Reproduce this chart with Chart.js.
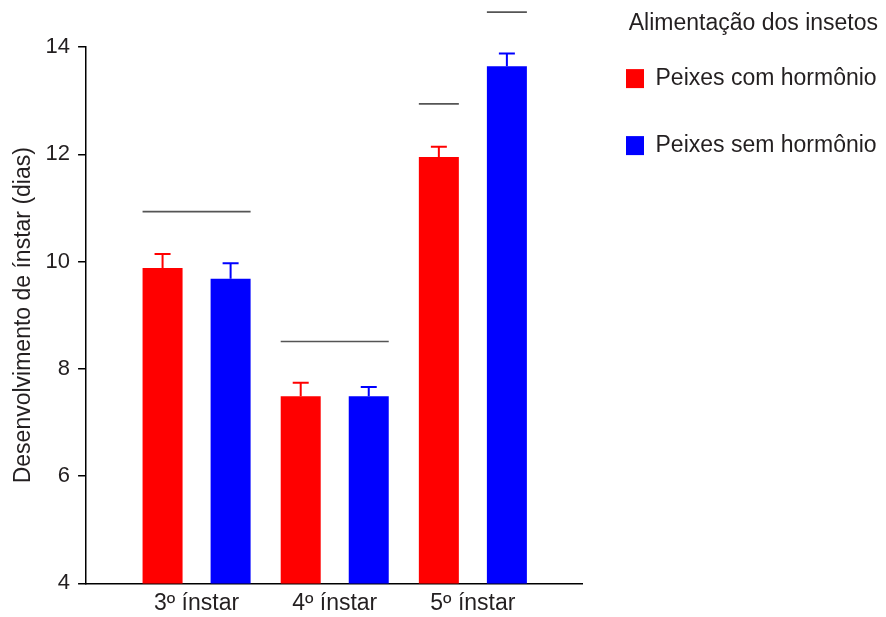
<!DOCTYPE html>
<html>
<head>
<meta charset="utf-8">
<script src="https://cdn.jsdelivr.net/npm/chart.js@4/dist/chart.umd.min.js"></script>
<style>
  html, body { margin: 0; padding: 0; background: #fff; }
  #wrap { width: 886px; height: 617px; }
</style>
</head>
<body>
<div id="wrap"><canvas id="chart"></canvas></div>
<script>
'use strict';

var categories = ['3º ínstar', '4º ínstar', '5º ínstar'];
var seriesNames = ['Peixes com hormônio', 'Peixes sem hormônio'];
var comHormonio = [9.88, 7.49, 11.95];
var semHormonio = [9.68, 7.49, 13.64];
var erroCom = [0.26, 0.25, 0.19];
var erroSem = [0.29, 0.17, 0.24];
var yTicks = [4, 6, 8, 10, 12, 14];

// significance lines: group, first series, last series, level
var sigGroup = [0, 1, 2, 2];
var sigFrom = [0, 0, 0, 1];
var sigTo = [1, 1, 0, 1];
var sigLevel = [10.93, 8.51, 12.94, 14.65];

var textColor = '#231f20';
var font = 'Arial, "Liberation Sans", Helvetica, sans-serif';

function points(values) {
   return values.map(function (v, i) { return { x: i, y: v }; });
}

var errorBars = {
   id: 'errorBars',
   afterDatasetsDraw: function (chart) {
      var ctx = chart.ctx;
      var yScale = chart.scales.y;
      var errs = [erroCom, erroSem];
      ctx.save();
      chart.data.datasets.forEach(function (ds, d) {
         var meta = chart.getDatasetMeta(d);
         meta.data.forEach(function (bar, i) {
            var top = yScale.getPixelForValue(ds.data[i].y + errs[d][i]);
            ctx.strokeStyle = ds.backgroundColor;
            ctx.lineWidth = 2;
            ctx.beginPath();
            ctx.moveTo(bar.x, bar.y);
            ctx.lineTo(bar.x, top);
            ctx.moveTo(bar.x - 8, top);
            ctx.lineTo(bar.x + 8, top);
            ctx.stroke();
         });
      });
      ctx.restore();
   }
};

var sigLines = {
   id: 'sigLines',
   afterDatasetsDraw: function (chart) {
      var ctx = chart.ctx;
      var yScale = chart.scales.y;
      ctx.save();
      ctx.strokeStyle = '#555';
      ctx.lineWidth = 1.6;
      sigLevel.forEach(function (lvl, k) {
         var a = chart.getDatasetMeta(sigFrom[k]).data[sigGroup[k]];
         var b = chart.getDatasetMeta(sigTo[k]).data[sigGroup[k]];
         var y = yScale.getPixelForValue(lvl);
         ctx.beginPath();
         ctx.moveTo(a.x - a.width / 2, y);
         ctx.lineTo(b.x + b.width / 2, y);
         ctx.stroke();
      });
      ctx.restore();
   }
};

var config = {
   type: 'bar',
   data: {
      datasets: [{
         label: seriesNames[0],
         data: points(comHormonio),
         backgroundColor: '#ff0000',
         borderWidth: 0
      }, {
         label: seriesNames[1],
         data: points(semHormonio),
         backgroundColor: '#0000ff',
         borderWidth: 0
      }]
   },
   options: {
      responsive: true,
      maintainAspectRatio: false,
      animation: false,
      categoryPercentage: 0.985,
      barPercentage: 0.588,
      layout: { padding: { top: 0, left: 0, right: 8, bottom: -6 } },
      plugins: {
         tooltip: { enabled: false },
         legend: {
            position: 'right',
            align: 'start',
            maxWidth: 296,
            title: {
               display: true,
               text: 'Alimentação dos insetos',
               position: 'end',
               color: textColor,
               font: { family: font, size: 23 },
               padding: { top: 12.5, bottom: -17 }
            },
            labels: {
               color: textColor,
               font: { family: font, size: 23 },
               boxWidth: 18,
               boxHeight: 19,
               padding: 44
            }
         }
      },
      scales: {
         x: {
            type: 'linear',
            offset: false,
            min: -0.80,
            max: 2.79,
            grid: { display: false, drawTicks: false, offset: false },
            border: { display: true, color: '#000', width: 1.5 },
            afterBuildTicks: function (scale) {
               scale.ticks = categories.map(function (c, i) { return { value: i }; });
            },
            ticks: {
               color: textColor,
               font: { family: font, size: 23 },
               padding: 6,
               callback: function (v) { return categories[v]; }
            }
         },
         y: {
            min: yTicks[0],
            max: yTicks[yTicks.length - 1],
            afterBuildTicks: function (scale) {
               scale.ticks = yTicks.map(function (v) { return { value: v }; });
            },
            afterFit: function (scale) {
               scale.paddingTop = 47;
            },
            grid: { display: true, drawOnChartArea: false, drawTicks: true, tickLength: 8, color: '#000', lineWidth: 1.5 },
            border: { display: true, color: '#000', width: 1.5 },
            ticks: {
               color: textColor,
               font: { family: font, size: 22 },
               padding: 8
            },
            title: {
               display: true,
               text: 'Desenvolvimento de ínstar (dias)',
               color: textColor,
               font: { family: font, size: 23 },
               padding: { top: 10, bottom: 0 }
            }
         }
      }
   },
   plugins: [errorBars, sigLines]
};

window.onload = function () {
   var ctx = document.getElementById('chart').getContext('2d');
   window.myChart = new Chart(ctx, config);
};
</script>
</body>
</html>
